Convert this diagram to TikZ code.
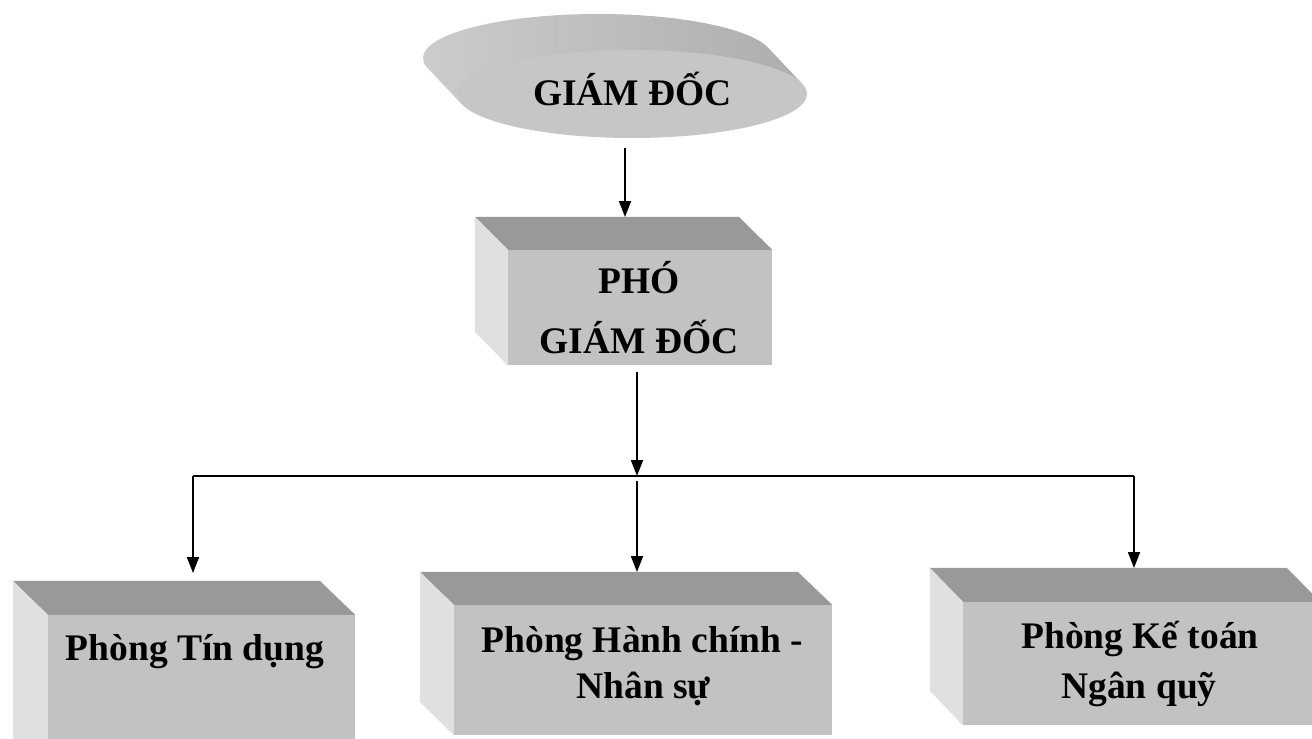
\documentclass[tikz,border=0pt]{standalone}
\usepackage{fontspec}
\setmainfont{Liberation Serif}
\usetikzlibrary{arrows.meta,shapes.geometric,calc}
\definecolor{faceT}{HTML}{999999}
\definecolor{faceF}{HTML}{C2C2C2}
\definecolor{faceL}{HTML}{E0E0E0}
\definecolor{ellF}{HTML}{C6C6C6}
\begin{document}
\begin{tikzpicture}[x=1pt,y=-1pt,
  lbl/.style={anchor=base, inner sep=0pt, font=\fontsize{37.5}{42}\selectfont\bfseries},
  front/.style={rectangle, fill=faceF, inner sep=0pt},
  topface/.style={fill=faceT},
  sideface/.style={fill=faceL},
  arr/.style={draw, line width=1.8pt, -{Triangle[length=16pt,width=12pt]}},
  busline/.style={draw, line width=2.8pt}]
\useasboundingbox (0,0) rectangle (1312,739);
\clip (0,0) rectangle (1312,739);
\fill[white] (0,0) rectangle (1312,739);

% ---- GIAM DOC (extruded ellipse)
\shade[left color=black!20, middle color=black!40, right color=black!32]
  (598,58) ellipse [x radius=175pt, y radius=44pt]
  (802.3,83.9) -- (768.3,47.9) -- (427.7,68.1) -- (461.7,104.1) -- cycle;
\node[ellipse, fill=ellF, inner sep=0pt, minimum width=350pt, minimum height=88pt] (gd) at (632,94) {};
\node[lbl] (gdt) at (632.5,105) {GIÁM ĐỐC};

% ---- PHO GIAM DOC
\node[front, minimum width=264pt, minimum height=115pt] (pho) at (640,307.5) {};
\fill[topface] (pho.north west) -- ++(-33,-33) -- ++(264,0) -- (pho.north east) -- cycle;
\fill[sideface] (pho.north west) -- ++(-33,-33) -- ++(0,115) -- (pho.south west) -- cycle;
\node[lbl] (phoa) at (639,293) {PHÓ};
\node[lbl] (phob) at (639,353) {GIÁM ĐỐC};

% ---- Phong Tin dung
\node[front, minimum width=307pt, minimum height=160pt] (b1) at (201.5,695) {};
\fill[topface] (b1.north west) -- ++(-35,-34) -- ++(307,0) -- (b1.north east) -- cycle;
\fill[sideface] (b1.north west) -- ++(-35,-34) -- ++(0,160) -- (b1.south west) -- cycle;
\node[lbl] (b1t) at (195,660) {Phòng Tín dụng};

% ---- Phong Hanh chinh - Nhan su
\node[front, minimum width=378pt, minimum height=130pt] (b2) at (643,670) {};
\fill[topface] (b2.north west) -- ++(-34,-33) -- ++(378,0) -- (b2.north east) -- cycle;
\fill[sideface] (b2.north west) -- ++(-34,-33) -- ++(0,130) -- (b2.south west) -- cycle;
\node[lbl] (b2a) at (642.5,652) {Phòng Hành chính -};
\node[lbl] (b2b) at (643.5,698) {Nhân sự};

% ---- Phong Ke toan Ngan quy
\node[front, minimum width=357pt, minimum height=123pt] (b3) at (1141.5,663.5) {};
\fill[topface] (b3.north west) -- ++(-33,-34) -- ++(357,0) -- (b3.north east) -- cycle;
\fill[sideface] (b3.north west) -- ++(-33,-34) -- ++(0,123) -- (b3.south west) -- cycle;
\node[lbl] (b3a) at (1140,648) {Phòng Kế toán};
\node[lbl] (b3b) at (1139,698) {Ngân quỹ};

% ---- connectors
\coordinate (in0) at (625,217);
\coordinate (bus) at (637,476);
\coordinate (busL) at (193,476);
\coordinate (busR) at (1134,476);
\coordinate (in1) at (193,573);
\coordinate (in2) at (637,572);
\coordinate (in3) at (1134,568);

\draw[arr] ($(gd.south -| in0)+(0,10)$) -- (in0);
\draw[arr] ($(pho.south -| bus)+(0,7)$) -- (bus);
\draw[busline] (busL) -- (busR);
\draw[arr] (busL) -- (in1);
\draw[arr] ($(bus)+(0,5)$) -- (in2);
\draw[arr] (busR) -- (in3);
\end{tikzpicture}
\end{document}
